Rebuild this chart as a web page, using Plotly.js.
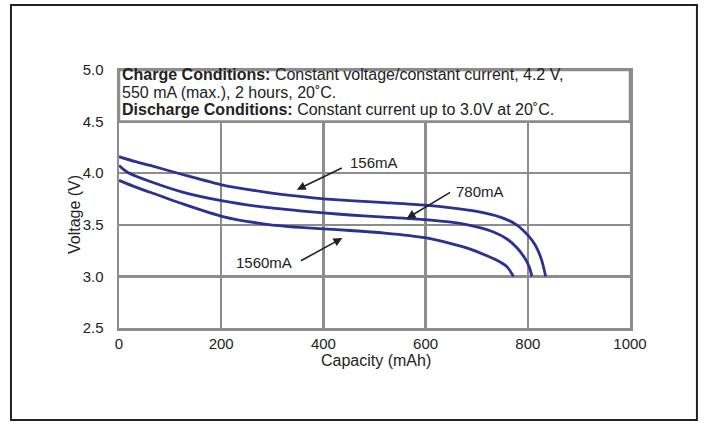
<!DOCTYPE html>
<html>
<head>
<meta charset="utf-8">
<script src="https://cdn.plot.ly/plotly-3.0.1.min.js"></script>
<style>html,body{margin:0;padding:0;background:#fff;}#chart{width:704px;height:423px;}</style>
</head>
<body>
<div id="chart"></div>
<script>
// Discharge curves
const seriesNames = ["156mA", "780mA", "1560mA"];
const cap156 = [0, 30, 61, 126, 203, 289, 354, 400, 452, 520, 599, 650, 700, 746, 778, 800, 815, 827, 835];
const volt156 = [4.16, 4.115, 4.075, 3.985, 3.885, 3.815, 3.775, 3.752, 3.735, 3.715, 3.69, 3.665, 3.63, 3.575, 3.50, 3.40, 3.30, 3.16, 3.0];
const cap780 = [0, 8, 20, 61, 126, 203, 289, 354, 400, 452, 520, 599, 650, 700, 733, 760, 780, 795, 803, 808];
const volt780 = [4.075, 4.04, 4.0, 3.92, 3.815, 3.732, 3.668, 3.635, 3.615, 3.595, 3.575, 3.55, 3.525, 3.48, 3.43, 3.36, 3.27, 3.17, 3.09, 3.0];
const cap1560 = [0, 30, 61, 126, 203, 289, 354, 400, 452, 520, 599, 648, 690, 720, 746, 760, 772];
const volt1560 = [3.93, 3.87, 3.815, 3.70, 3.58, 3.505, 3.475, 3.46, 3.445, 3.42, 3.375, 3.32, 3.26, 3.20, 3.14, 3.09, 3.0];

const xTicks = [0, 200, 400, 600, 800, 1000];
const xTickText = ["0", "200", "400", "600", "800", "1000"];
const yTicks = [2.5, 3.0, 3.5, 4.0, 4.5, 5.0];
const yTickText = ["2.5", "3.0", "3.5", "4.0", "4.5", "5.0"];

const xTitle = "Capacity (mAh)";
const yTitle = "Voltage (V)";
const noteLines = [
  "<b>Charge Conditions:</b> Constant voltage/constant current, 4.2 V,",
  "550 mA (max.), 2 hours, 20˚C.",
  "<b>Discharge Conditions:</b> Constant current up to 3.0V at 20˚C."
];

const FONT = "Liberation Sans, Arial, Helvetica, sans-serif";
const GRID = "#8c8c8c";
const CURVE = "#2b3192";
const TXT = "#222";

const caps = [cap156, cap780, cap1560];
const volts = [volt156, volt780, volt1560];
const traces = caps.map((c, i) => ({
  type: "scatter", mode: "lines", name: seriesNames[i],
  x: c, y: volts[i],
  line: {color: CURVE, width: 2.8, shape: "spline", smoothing: 0.6},
  hoverinfo: "skip"
}));

const noteY = [4.955, 4.78, 4.615];
const annotations = [];
noteLines.forEach((t, i) => annotations.push({
  xref: "x", yref: "y", x: 2, y: noteY[i], xanchor: "left", yanchor: "middle",
  text: t, showarrow: false, font: {family: FONT, size: 16, color: TXT}
}));
// curve labels
annotations.push({xref: "x", yref: "y", x: 448, y: 4.10, xanchor: "left", yanchor: "middle",
  text: seriesNames[0], showarrow: false, font: {family: FONT, size: 15, color: TXT}});
annotations.push({xref: "x", yref: "y", x: 656, y: 3.82, xanchor: "left", yanchor: "middle",
  text: seriesNames[1], showarrow: false, font: {family: FONT, size: 15, color: TXT}});
annotations.push({xref: "x", yref: "y", x: 343, y: 3.133, xanchor: "right", yanchor: "middle",
  text: seriesNames[2], showarrow: false, font: {family: FONT, size: 15, color: TXT}});
// arrows
const arrows = [
  {hx: 348, hy: 3.84, tx: 439, ty: 4.057},
  {hx: 563, hy: 3.562, tx: 651, ty: 3.823},
  {hx: 437, hy: 3.372, tx: 353, ty: 3.143}
];
arrows.forEach(a => annotations.push({
  xref: "x", yref: "y", axref: "x", ayref: "y",
  x: a.hx, y: a.hy, ax: a.tx, ay: a.ty, text: "",
  showarrow: true, arrowhead: 2, arrowsize: 1.1, arrowwidth: 1.6, arrowcolor: TXT, standoff: 0
}));
// axis titles
annotations.push({xref: "paper", yref: "paper", x: 0.502, y: -0.126, xanchor: "center", yanchor: "middle",
  text: xTitle, showarrow: false, font: {family: FONT, size: 16, color: TXT}});
annotations.push({xref: "paper", yref: "paper", x: -0.086, y: 0.438, xanchor: "center", yanchor: "middle",
  text: yTitle, textangle: -90, showarrow: false, font: {family: FONT, size: 16, color: TXT}});

const shapes = [
  // note box covering upper band
  {type: "rect", xref: "x", yref: "y", x0: 0, x1: 1000, y0: 4.5, y1: 5.0,
   fillcolor: "#fff", line: {color: GRID, width: 2.5}, layer: "above"},
  // outer frame
  {type: "rect", xref: "paper", yref: "paper", x0: -0.2114, x1: 1.131, y0: -0.3566, y1: 1.252,
   fillcolor: "rgba(0,0,0,0)", line: {color: "#222", width: 2}, layer: "above"}
];

const layout = {
  width: 704, height: 423,
  margin: {l: 119, r: 74, t: 70, b: 95, pad: 0},
  paper_bgcolor: "#fff", plot_bgcolor: "#fff",
  showlegend: false,
  font: {family: FONT, size: 15, color: TXT},
  xaxis: {
    range: [0, 1000], tickvals: xTicks, ticktext: xTickText,
    showgrid: true, gridcolor: GRID, gridwidth: 2.5,
    showline: true, linecolor: GRID, linewidth: 2.5, mirror: true,
    zeroline: false, ticks: "", 
    tickfont: {family: FONT, size: 15, color: TXT}, fixedrange: true
  },
  yaxis: {
    range: [2.5, 5.0], tickvals: yTicks, ticktext: yTickText,
    showgrid: true, gridcolor: GRID, gridwidth: 2.5,
    showline: true, linecolor: GRID, linewidth: 2.5, mirror: true,
    zeroline: false, ticks: "outside", ticklen: 10, tickcolor: "rgba(0,0,0,0)",
    tickfont: {family: FONT, size: 15, color: TXT}, fixedrange: true
  },
  annotations: annotations,
  shapes: shapes
};

Plotly.newPlot("chart", traces, layout, {displayModeBar: false, staticPlot: true});
</script>
</body>
</html>
